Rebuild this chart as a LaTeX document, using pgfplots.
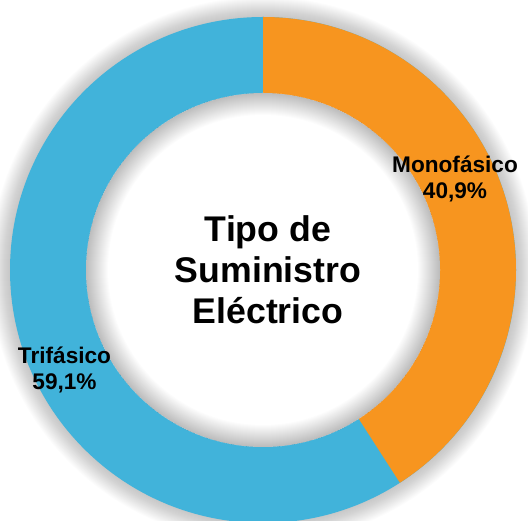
\documentclass[border=0pt]{standalone}
\usepackage{fontspec}
\setmainfont{Liberation Sans}
\usepackage{pgfplots}
\usepackage{pgfplotstable}
\pgfplotsset{compat=1.18}
\definecolor{mono}{HTML}{F7951F}
\definecolor{tri}{HTML}{41B3DA}
\pgfplotstableread{
id value
1 40.9
2 59.1
}\datatable
\begin{document}
\begin{tikzpicture}
\pgfplotstablegetelem{0}{value}\of\datatable \let\vmono\pgfplotsretval
\pgfplotstablegetelem{1}{value}\of\datatable \let\vtri\pgfplotsretval
\pgfmathsetmacro\angB{90-3.6*\vmono}
\begin{axis}[scale only axis, width=528bp, height=521bp,
  xmin=-263, xmax=265, ymin=-251, ymax=270, hide axis, clip=true]
\pgfplotsextra{
  % outer glow
  \foreach \k in {1,...,20}{
    \pgfmathsetlengthmacro\rr{(253+\k)*1bp}
    \fill[black, opacity=0.010] (axis cs:0,0) circle[radius=\rr];
  }
  % ring: full trifasico then monofasico wedge
  \fill[tri] (axis cs:0,0) circle[radius=253bp];
  \fill[mono] (axis cs:0,0) -- ++(90:253bp) arc[start angle=90, end angle=\angB, radius=253bp] -- cycle;
  % hole
  \fill[white] (axis cs:0,0) circle[radius=177bp];
  % inner shadow
  \foreach \k in {1,...,22}{
    \pgfmathsetlengthmacro\rr{(177-\k)*1bp}
    \fill[black, opacity=0.010, even odd rule] (axis cs:0,0) circle[radius=177bp] (axis cs:0,0) circle[radius=\rr];
  }
  \node[align=center, font=\bfseries\fontsize{35.8}{41}\selectfont, text=black] at (axis cs:5,0) {Tipo de\\Suministro\\Eléctrico};
  \node[align=center, font=\bfseries\fontsize{22.7}{26}\selectfont, text=black] at (axis cs:192,91) {Monofásico\\40,9\%};
  \node[align=center, font=\bfseries\fontsize{22.7}{26}\selectfont, text=black] at (axis cs:-198.5,-100) {Trifásico\\59,1\%};
}
\end{axis}
\pgfresetboundingbox
\path (0,0) rectangle (528bp,521bp);
\end{tikzpicture}
\end{document}
